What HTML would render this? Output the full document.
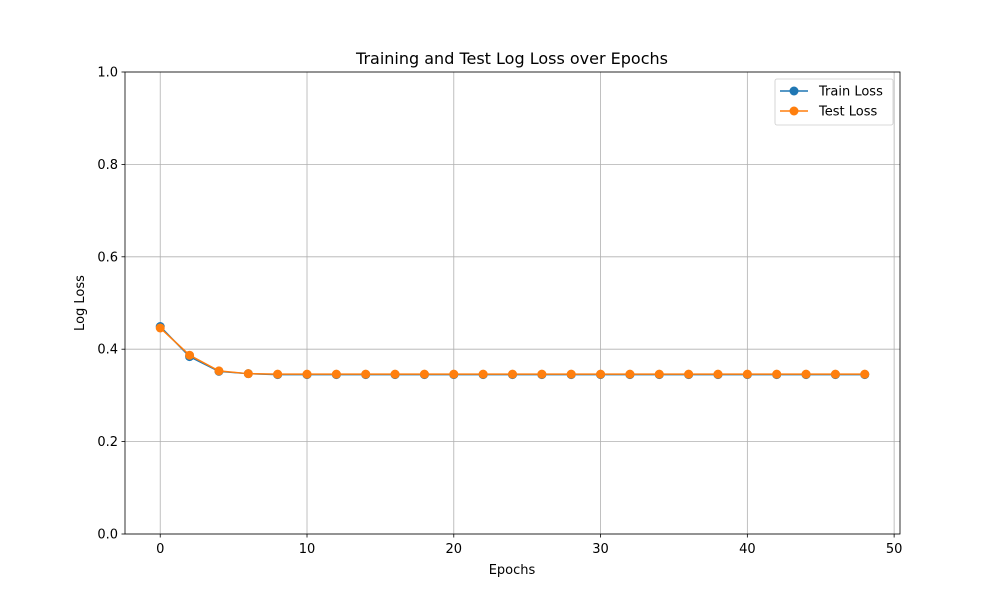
<!DOCTYPE html>
<html><head><meta charset="utf-8"><style>
body{margin:0;background:#fff;font-family:"Liberation Sans","DejaVu Sans",sans-serif}
svg text{font-family:"DejaVu Sans","Liberation Sans",sans-serif}
</style></head><body>
<svg id="c" width="1000" height="600"></svg>
<script>
const epochs=[0,2,4,6,8,10,12,14,16,18,20,22,24,26,28,30,32,34,36,38,40,42,44,46,48];
const trainLoss=[0.449,0.384,0.352,0.347,0.345,0.345,0.345,0.345,0.345,0.345,0.345,0.345,0.345,0.345,0.345,0.345,0.345,0.345,0.345,0.345,0.345,0.345,0.345,0.345,0.345];
const testLoss=[0.446,0.387,0.353,0.347,0.346,0.346,0.346,0.346,0.346,0.346,0.346,0.346,0.346,0.346,0.346,0.346,0.346,0.346,0.346,0.346,0.346,0.346,0.346,0.346,0.346];
const xTicks=[0,10,20,30,40,50];
const yTicks=[0.0,0.2,0.4,0.6,0.8,1.0];
const L=125,R=900,T=72,B=534,xmin=-2.4,xmax=50.4;
const X=v=>L+(v-xmin)/(xmax-xmin)*(R-L);
const Y=v=>B-v*(B-T);
const s=document.getElementById('c');const NS='http://www.w3.org/2000/svg';
function el(t,a,p){const e=document.createElementNS(NS,t);for(const k in a)e.setAttribute(k,a[k]);(p||s).appendChild(e);return e;}
let g=el('g',{});


xTicks.forEach(v=>{if(X(v)<=R){el('line',{x1:X(v),x2:X(v),y1:T,y2:B,stroke:'#b0b0b0','stroke-width':0.8},g);}});
yTicks.forEach(v=>{el('line',{x1:L,x2:R,y1:Y(v),y2:Y(v),stroke:'#b0b0b0','stroke-width':0.8},g);});
xTicks.forEach(v=>{const x=X(v);el('line',{x1:x,x2:x,y1:B,y2:B+3.5,stroke:'#000','stroke-width':0.8});
const t=el('text',{x:x,y:B+19,'text-anchor':'middle','font-size':13});t.textContent=v;

});
yTicks.forEach(v=>{const y=Y(v);el('line',{x1:L-3.5,x2:L,y1:y,y2:y,stroke:'#000','stroke-width':0.8});
const t=el('text',{x:L-7,y:y+4.5,'text-anchor':'end','font-size':13});t.textContent=v.toFixed(1);

});
function series(data,color,name){const gg=el('g',{});


el('polyline',{points:epochs.map((e,i)=>X(e)+','+Y(data[i])).join(' '),fill:'none',stroke:color,'stroke-width':1.5},gg);
epochs.forEach((e,i)=>el('circle',{cx:X(e),cy:Y(data[i]),r:4.5,fill:color},gg));}
series(trainLoss,'#1f77b4','train-loss-series');
series(testLoss,'#ff7f0e','test-loss-series');
const f=el('rect',{x:L,y:T,width:R-L,height:B-T,fill:'none',stroke:'#000','stroke-width':0.8});


let t=el('text',{x:512,y:64,'text-anchor':'middle','font-size':16});t.textContent='Training and Test Log Loss over Epochs';


t=el('text',{x:512,y:574,'text-anchor':'middle','font-size':13});t.textContent='Epochs';


t=el('text',{x:84,y:303,'text-anchor':'middle','font-size':13,transform:'rotate(-90 84 303)'});t.textContent='Log Loss';


const lg=el('g',{});


el('rect',{x:775,y:79,width:118,height:46,rx:2,fill:'#fff',stroke:'#ccc','stroke-width':0.8},lg);
[['Train Loss','#1f77b4',91],['Test Loss','#ff7f0e',111]].forEach(([n,c,y])=>{
const e=el('g',{},lg);


el('line',{x1:780,x2:808,y1:y,y2:y,stroke:c,'stroke-width':1.5},e);
el('circle',{cx:794,cy:y,r:4.5,fill:c},e);
const tt=el('text',{x:819,y:y+4.5,'font-size':13},e);tt.textContent=n;});
</script>
</body></html>
